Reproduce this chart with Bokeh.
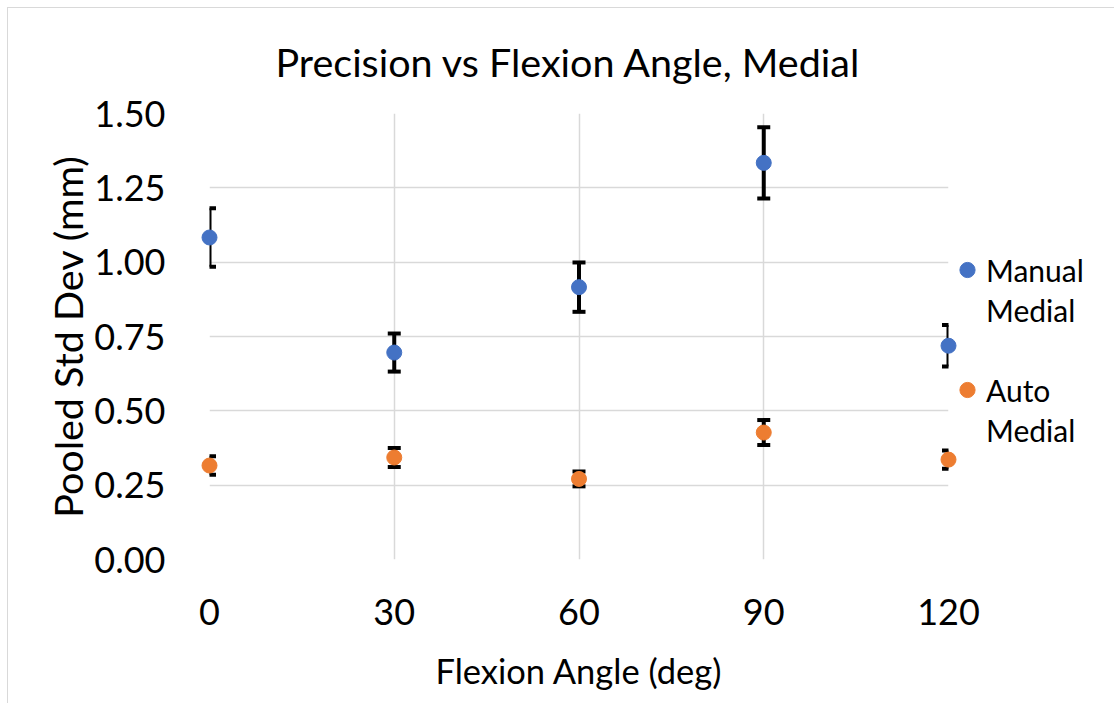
from bokeh.plotting import figure
from bokeh.models import Range1d, FixedTicker, NumeralTickFormatter, Legend, LegendItem, ColumnDataSource, Title
from bokeh.embed import file_html
from bokeh.resources import INLINE

angles = [0, 30, 60, 90, 120]
manual_medial = [1.083, 0.696, 0.916, 1.334, 0.719]
manual_err = [0.098, 0.064, 0.083, 0.120, 0.070]
auto_medial = [0.316, 0.343, 0.271, 0.427, 0.336]
auto_err = [0.031, 0.032, 0.025, 0.042, 0.031]
x_ticks = [0, 30, 60, 90, 120]
y_ticks = [0.0, 0.25, 0.5, 0.75, 1.0, 1.25, 1.5]
legend_lines = [("Manual", "Medial"), ("Auto", "Medial")]

FONT = "Lato"
BLUE = "#4472C4"
ORANGE = "#ED7D31"

p = figure(frame_width=739, frame_height=446, output_backend="svg", toolbar_location=None,
           x_range=Range1d(0, 120), y_range=Range1d(0, 1.5),
           min_border_left=201, min_border_right=160, min_border_top=105, min_border_bottom=144)
p.styles = {"margin-left": "7px", "margin-top": "7px",
            "border-left": "1px solid #d9d9d9", "border-top": "1px solid #d9d9d9"}
p.outline_line_color = None
p.background_fill_color = "white"
p.border_fill_color = "white"

t = Title(text="Precision vs Flexion Angle, Medial", align="left", offset=66,
          vertical_align="top", text_font=FONT,
          text_font_size="39.5px", text_font_style="normal", text_color="black",
          standoff=54)
p.add_layout(t, "above")

for ax in (p.xaxis, p.yaxis):
    ax.axis_line_color = None
    ax.major_tick_line_color = None
    ax.minor_tick_line_color = None
    ax.major_label_text_font = FONT
    ax.major_label_text_font_size = "36px"
    ax.major_label_text_color = "black"
    ax.axis_label_text_font = FONT
    ax.axis_label_text_font_style = "normal"
    ax.axis_label_text_color = "black"

p.xaxis.ticker = FixedTicker(ticks=x_ticks)
p.yaxis.ticker = FixedTicker(ticks=y_ticks)
p.yaxis.formatter = NumeralTickFormatter(format="0.00")
p.xaxis.axis_label = "Flexion Angle (deg)"
p.yaxis.axis_label = "Pooled Std Dev (mm)"
p.xaxis.axis_label_text_font_size = "34.5px"
p.yaxis.axis_label_text_font_size = "39.5px"
p.xaxis.major_label_standoff = 33
p.yaxis.major_label_standoff = 38
p.xaxis.axis_label_standoff = 22
p.yaxis.axis_label_standoff = 0

p.xgrid.grid_line_color = "#d9d9d9"
p.ygrid.grid_line_color = "#d9d9d9"
p.xgrid.grid_line_width = 1.5
p.ygrid.grid_line_width = 1.5

def add_series(vals, errs, color):
    lo = [v - e for v, e in zip(vals, errs)]
    hi = [v + e for v, e in zip(vals, errs)]
    src = ColumnDataSource(dict(x=angles, y=vals, lo=lo, hi=hi))
    p.segment(x0="x", y0="lo", x1="x", y1="hi", source=src, line_color="black", line_width=4)
    p.scatter(x="x", y="lo", source=src, marker="dash", size=13, line_color="black", line_width=4)
    p.scatter(x="x", y="hi", source=src, marker="dash", size=13, line_color="black", line_width=4)
    r = p.scatter(x="x", y="y", source=src, marker="circle", size=15, fill_color=color,
                  line_color=color, level="overlay")
    return r

r_manual = add_series(manual_medial, manual_err, BLUE)
r_auto = add_series(auto_medial, auto_err, ORANGE)
# invisible renderer used for legend continuation lines
r_blank = p.scatter(x=[], y=[], marker="circle", fill_alpha=0, line_alpha=0)

items = [
    LegendItem(label=legend_lines[0][0], renderers=[r_manual]),
    LegendItem(label=legend_lines[0][1], renderers=[r_blank]),
    LegendItem(label=" ", renderers=[r_blank]),
    LegendItem(label=legend_lines[1][0], renderers=[r_auto]),
    LegendItem(label=legend_lines[1][1], renderers=[r_blank]),
]
legend = Legend(items=items, location="center_left", orientation="vertical")
legend.title = " "
legend.title_text_font_size = "20px"
legend.title_standoff = 4
legend.label_text_font = FONT
legend.label_text_font_size = "30px"
legend.label_text_color = "black"
legend.border_line_color = None
legend.background_fill_alpha = 0
legend.padding = 0
legend.margin = 0
legend.spacing = 0
legend.glyph_width = 38
legend.glyph_height = 40
legend.label_height = 40
legend.label_standoff = 0
p.add_layout(legend, "right")

open("out.html", "w").write(file_html(p, INLINE))
